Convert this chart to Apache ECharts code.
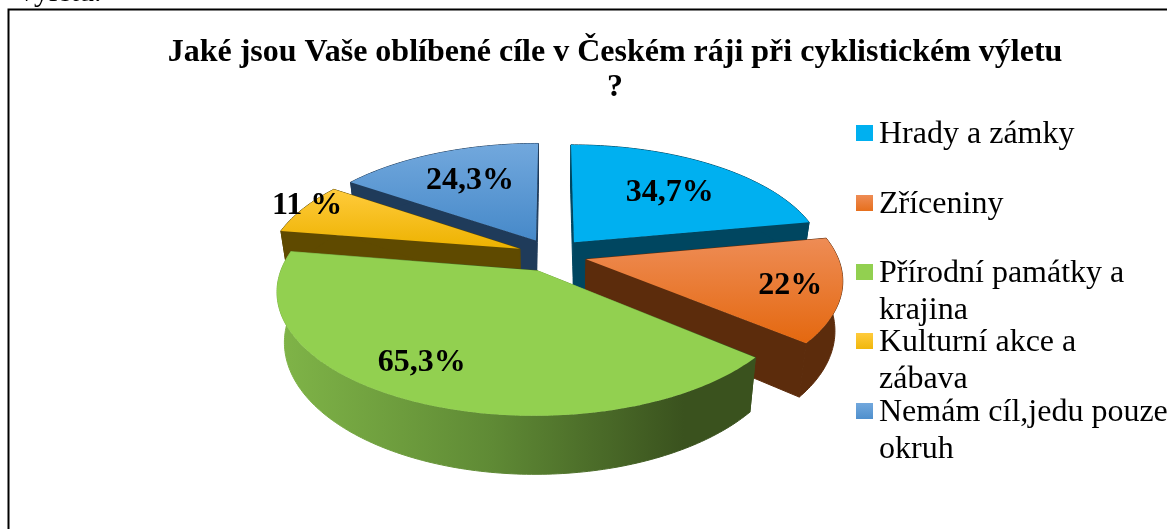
<!DOCTYPE html>
<html><head><meta charset="utf-8">
<style>html,body{margin:0;padding:0;background:#fff}#c{width:1167px;height:529px}</style>
<script src="https://cdn.jsdelivr.net/npm/echarts@6/dist/echarts.min.js"></script>
</head><body><div id="c"></div>
<script>
const categories = ['Hrady a zámky','Zříceniny','Přírodní památky a krajina','Kulturní akce a zábava','Nemám cíl,jedu pouze okruh'];
const values = [34.7,22,65.3,11,24.3];
const valueLabels = ['34,7%','22%','65,3%','11 %','24,3%'];
const legendLines = [['Hrady a zámky'],['Zříceniny'],['Přírodní památky a','krajina'],['Kulturní akce a','zábava'],['Nemám cíl,jedu pouze','okruh']];

const V = {cx:552, cy:255, R:243, wide:1.033, explode:35, k:0.48, D:1530, h:48, taper:0.027};
const FONT = '"Liberation Serif","Times New Roman",serif';
const vgrad = (a,b)=>({type:'linear',x:0,y:0,x2:0,y2:1,colorStops:[{offset:0,color:a},{offset:1,color:b}]});
const topFills = ['#00B0F0',vgrad('#EE8C55','#E4680F'),'#92D050',vgrad('#FFCB3C','#EDB200'),vgrad('#72A8DD','#4689C9')];
const wallFills = ['#004660','#5C2C0C',
  {type:'linear',x:0,y:0,x2:1,y2:0,colorStops:[{offset:0,color:'#80B548'},{offset:.45,color:'#5F8A35'},{offset:.85,color:'#3A521E'},{offset:1,color:'#3A521E'}]},
  '#5F4A00','#1F3B5A'];
const legendFills = topFills;
const paintRank = [1,3,4,2,0];
const labelRadius = [.63,.8,.8,1,.66];
const labelNudge = [[5,1],[1,2],[-17,-8],[4,-3],[2,0]];
const legendFirstLineY = [133,203,272,341,411];

const total = values.reduce((a,b)=>a+b,0);
const rad = d=>d*Math.PI/180;
const starts = []; values.reduce((acc,v,i)=>{starts[i]=acc;return acc+v/total*360;},0);

function project(X,Y,low){
  const s = 1/(1-Y/V.D);
  let x = V.cx+X*s, y = V.cy+Y*V.k*s;
  if(low){ x = V.cx+(x-V.cx)*(1-V.taper); y += V.h*s; }
  return [x,y];
}
function sliceRender(i){
  return function(params,api){
    const v = api.value(0), a0 = starts[i], sweep = v/total*360, a1 = a0+sweep, mid = a0+sweep/2;
    const ox = V.explode*Math.sin(rad(mid)), oy = -V.explode*Math.cos(rad(mid));
    const pt = (a,r,low)=>project(ox+V.wide*r*Math.sin(rad(a)),oy-r*Math.cos(rad(a)),low);
    const arc = (low,rev)=>{const out=[],n=Math.ceil(sweep);for(let j=0;j<=n;j++)out.push(pt(a0+sweep*j/n,V.R,low));return rev?out.reverse():out;};
    const wall = a=>{const q=[];for(let f=0;f<=1.001;f+=.1)q.push(pt(a,V.R*f,false));for(let f=1;f>=-.001;f-=.1)q.push(pt(a,V.R*f,true));return q;};
    const base = paintRank[i]*10;
    const lp = pt(mid,V.R*labelRadius[i],false);
    const poly=(points,fill,z2,seal)=>({type:'polygon',shape:{points},style:seal?{fill,stroke:fill,lineWidth:1}:{fill},z2,silent:true});
    return {type:'group',children:[
      poly(wall(a0),wallFills[i],base+1,true),
      poly(wall(a1),wallFills[i],base+1,true),
      poly(arc(false).concat(arc(true,true)),wallFills[i],base+2,true),
      poly([pt(0,0,false)].concat(arc(false)),topFills[i],base+3,false),
      {type:'text',z2:1000,silent:true,style:{x:lp[0]+labelNudge[i][0],y:lp[1]+labelNudge[i][1],text:valueLabels[i],fill:'#000',font:'bold 32px '+FONT,align:'center',verticalAlign:'middle'}}
    ]};
  };
}

const LH = 37;
const chart = echarts.init(document.getElementById('c'),null,{renderer:'canvas'});
chart.setOption({
  animation:false,
  backgroundColor:'#fff',
  title:{text:'Jaké jsou Vaše oblíbené cíle v Českém ráji při cyklistickém výletu\n?',left:610,top:30,textAlign:'center',
    textStyle:{fontFamily:FONT,fontWeight:'bold',fontSize:32,color:'#000',lineHeight:35}},
  legend:categories.map((name,i)=>{
    const two = legendLines[i].length>1;
    const lines = two ? 3 : 1;
    return {data:[name],left:856,top:legendFirstLineY[i]-lines*LH/2,orient:'vertical',padding:0,selectedMode:false,
      itemWidth:17,itemHeight:20,icon:'path://M0 0H17V16H0Z M0 20H0.01V20Z',itemStyle:{color:legendFills[i],borderWidth:0},
      formatter:()=> two ? '\n'+legendLines[i].join('\n') : legendLines[i][0],
      textStyle:{fontFamily:FONT,fontSize:32,color:'#000',lineHeight:LH,padding:[4,0,0,1]}};
  }),
  graphic:[
    {type:'polyline',shape:{points:[[8.5,529],[8.5,9.5],[1167,9.5]]},style:{stroke:'#000',lineWidth:2,fill:null},z:50},
    {type:'text',left:19,top:-22,style:{text:'výletu.',font:'30px '+FONT,fill:'#000'},z:50}
  ],
  series:categories.map((name,i)=>({type:'custom',name,coordinateSystem:'none',silent:true,
    itemStyle:{color:'#00B0F0'},
    renderItem:sliceRender(i),data:[[values[i]]]}))
});
</script></body></html>
